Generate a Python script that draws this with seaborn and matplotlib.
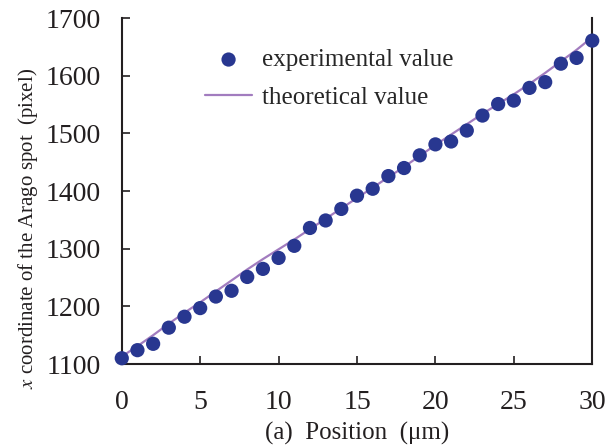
import numpy as np
import pandas as pd
import seaborn as sns
import matplotlib.pyplot as plt

# positions (um)
positions = list(range(0, 31))

# measured x coordinate of the Arago spot (pixel)
experimental = [1110, 1124, 1135, 1163, 1182, 1197, 1217, 1227, 1251, 1265,
                1284, 1305, 1336, 1349, 1369, 1392, 1404, 1426, 1440, 1462,
                1481, 1486, 1505, 1531, 1551, 1557, 1579, 1589, 1621, 1631,
                1661]

# theoretical curve
theoretical = [1113, 1131, 1150, 1170, 1189, 1207, 1226, 1245, 1264, 1282,
               1299, 1316, 1334, 1352, 1370, 1388, 1406, 1424, 1442, 1461,
               1480, 1498, 1516, 1534, 1551, 1568, 1586, 1605, 1625, 1645,
               1667]

df = pd.DataFrame({'position': positions, 'experimental': experimental,
                   'theoretical': theoretical})

sns.set_style('white')
plt.rcParams['font.family'] = ['Liberation Serif', 'DejaVu Serif']
plt.rcParams['mathtext.fontset'] = 'stix'

fig = plt.figure(figsize=(6.15, 4.48), dpi=100)
ax = fig.add_axes([0.198, 0.1875, 0.765, 0.772])

sns.lineplot(data=df, x='position', y='theoretical', color='#A27CBF', lw=1.6,
             ax=ax, label='theoretical value', zorder=2)
sns.scatterplot(data=df, x='position', y='experimental', color='#283790',
                s=105, edgecolor='none', ax=ax, label='experimental value',
                zorder=3, clip_on=False)

ax.set_xlim(0, 30)
ax.set_ylim(1100, 1700)
ax.set_xticks(range(0, 31, 5))
ax.set_yticks(range(1100, 1701, 100))
ax.tick_params(axis='both', direction='in', length=6, width=1.2,
               labelsize=20, colors='#231F20', bottom=True, left=True,
               top=False, right=False)
ax.tick_params(axis='y', pad=15)
ax.tick_params(axis='x', pad=19)

for side in ['left', 'bottom', 'right']:
    ax.spines[side].set_color('#231F20')
    ax.spines[side].set_linewidth(1.5)
ax.spines['top'].set_visible(False)

ax.set_xlabel('(a)  Position  (μm)', fontsize=18, labelpad=5, color='#231F20')
ax.set_ylabel('$x$ coordinate of the Arago spot  (pixel)', fontsize=15,
              color='#231F20')
ax.yaxis.set_label_coords(-0.174, 0.393)

handles, labels = ax.get_legend_handles_labels()
order = [1, 0]
ax.legend([handles[i] for i in order], [labels[i] for i in order],
          loc='upper left', bbox_to_anchor=(0.13, 0.977), frameon=False,
          fontsize=18, handlelength=1.85, handletextpad=0.4, labelspacing=0.6)

plt.savefig('out.png', dpi=100)
plt.close()
